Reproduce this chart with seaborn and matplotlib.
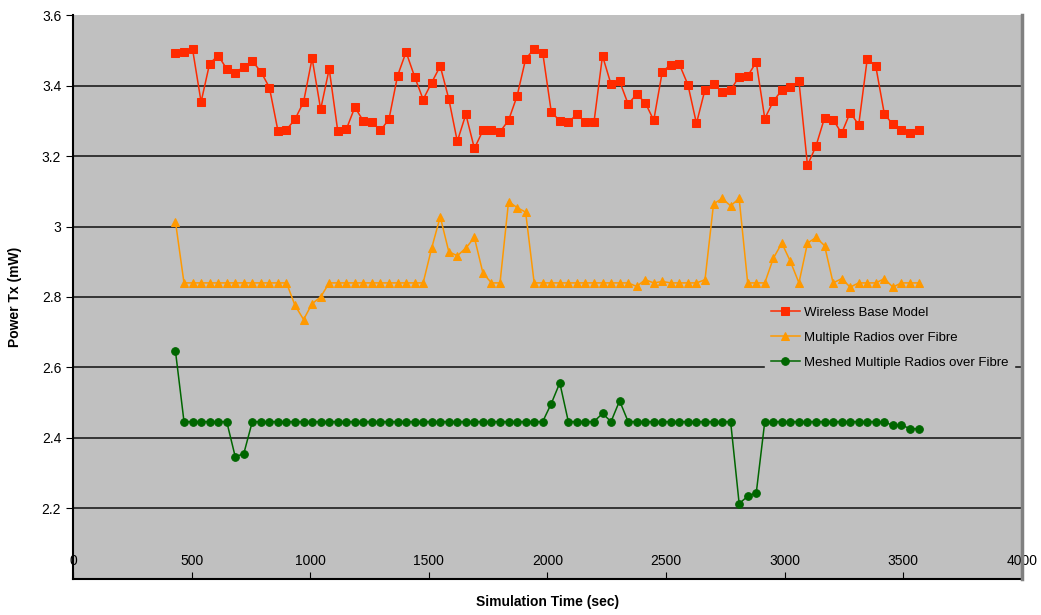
import numpy as np
import pandas as pd
import seaborn as sns
import matplotlib.pyplot as plt
from matplotlib.ticker import FuncFormatter

# simulation time (sec), one sample every 36 s
sim_time = [432, 468, 504, 540, 576, 612, 648, 684, 720, 756,
            792, 828, 864, 900, 936, 972, 1008, 1044, 1080, 1116,
            1152, 1188, 1224, 1260, 1296, 1332, 1368, 1404, 1440, 1476,
            1512, 1548, 1584, 1620, 1656, 1692, 1728, 1764, 1800, 1836,
            1872, 1908, 1944, 1980, 2016, 2052, 2088, 2124, 2160, 2196,
            2232, 2268, 2304, 2340, 2376, 2412, 2448, 2484, 2520, 2556,
            2592, 2628, 2664, 2700, 2736, 2772, 2808, 2844, 2880, 2916,
            2952, 2988, 3024, 3060, 3096, 3132, 3168, 3204, 3240, 3276,
            3312, 3348, 3384, 3420, 3456, 3492, 3528, 3564]

wireless_base = [3.492, 3.497, 3.504, 3.354, 3.463, 3.486, 3.448, 3.437, 3.454, 3.470,
                 3.440, 3.395, 3.272, 3.275, 3.305, 3.354, 3.478, 3.333, 3.448, 3.272,
                 3.276, 3.339, 3.300, 3.297, 3.273, 3.305, 3.428, 3.496, 3.426, 3.361,
                 3.409, 3.456, 3.363, 3.242, 3.319, 3.222, 3.273, 3.273, 3.269, 3.302,
                 3.371, 3.476, 3.505, 3.494, 3.326, 3.300, 3.296, 3.319, 3.296, 3.296,
                 3.485, 3.404, 3.413, 3.348, 3.376, 3.352, 3.302, 3.440, 3.460, 3.461,
                 3.403, 3.293, 3.389, 3.405, 3.383, 3.388, 3.426, 3.428, 3.467, 3.307,
                 3.356, 3.388, 3.396, 3.413, 3.174, 3.229, 3.309, 3.304, 3.265, 3.324,
                 3.289, 3.477, 3.455, 3.320, 3.290, 3.274, 3.266, 3.274]

multi_rof = [3.014, 2.840, 2.840, 2.840, 2.840, 2.840, 2.840, 2.840, 2.840, 2.840,
             2.840, 2.840, 2.840, 2.840, 2.776, 2.736, 2.781, 2.800, 2.840, 2.840,
             2.840, 2.840, 2.840, 2.840, 2.840, 2.840, 2.840, 2.840, 2.840, 2.840,
             2.939, 3.028, 2.929, 2.917, 2.939, 2.969, 2.868, 2.840, 2.840, 3.071,
             3.054, 3.041, 2.840, 2.840, 2.840, 2.840, 2.840, 2.840, 2.840, 2.840,
             2.840, 2.840, 2.840, 2.840, 2.830, 2.849, 2.840, 2.844, 2.840, 2.840,
             2.840, 2.840, 2.849, 3.064, 3.080, 3.059, 3.080, 2.840, 2.840, 2.840,
             2.910, 2.953, 2.901, 2.840, 2.953, 2.969, 2.946, 2.840, 2.852, 2.828,
             2.840, 2.840, 2.840, 2.852, 2.828, 2.840, 2.840, 2.840]

meshed_rof = [2.646, 2.446, 2.446, 2.446, 2.446, 2.446, 2.446, 2.346, 2.355, 2.446,
              2.446, 2.446, 2.446, 2.446, 2.446, 2.446, 2.446, 2.446, 2.446, 2.446,
              2.446, 2.446, 2.446, 2.446, 2.446, 2.446, 2.446, 2.446, 2.446, 2.446,
              2.446, 2.446, 2.446, 2.446, 2.446, 2.446, 2.446, 2.446, 2.446, 2.446,
              2.446, 2.446, 2.446, 2.446, 2.497, 2.556, 2.446, 2.446, 2.446, 2.446,
              2.469, 2.446, 2.505, 2.446, 2.446, 2.446, 2.446, 2.446, 2.446, 2.446,
              2.446, 2.446, 2.446, 2.446, 2.446, 2.446, 2.213, 2.234, 2.243, 2.446,
              2.446, 2.446, 2.446, 2.446, 2.446, 2.446, 2.446, 2.446, 2.446, 2.446,
              2.446, 2.446, 2.446, 2.444, 2.436, 2.436, 2.426, 2.426]

series_names = ["Wireless Base Model", "Multiple Radios over Fibre",
                "Meshed Multiple Radios over Fibre"]
series_colors = ["#FF2A00", "#FF9900", "#006600"]
series_markers = ["s", "^", "o"]

plt.rcParams['font.family'] = ['Liberation Sans', 'DejaVu Sans']

fig = plt.figure(figsize=(10.41, 6.15), dpi=100)
ax = fig.add_axes([0.0701, 0.0592, 0.9116, 0.9158])
ax.set_facecolor("#C0C0C0")

for name, vals, col, mk in zip(series_names, [wireless_base, multi_rof, meshed_rof],
                               series_colors, series_markers):
    df = pd.DataFrame({"t": sim_time, "p": vals})
    sns.lineplot(data=df, x="t", y="p", ax=ax, color=col, marker=mk,
                 markersize=5.5, markeredgecolor=col, linewidth=1.1,
                 estimator=None, label=name)

ax.set_xlim(0, 4000)
ax.set_ylim(2.0, 3.6)
ax.set_xticks(np.arange(0, 4001, 500))
ax.set_yticks(np.arange(2.2, 3.61, 0.2))
ax.yaxis.set_major_formatter(FuncFormatter(lambda v, p: "%g" % round(v, 1)))

for yv in np.arange(2.2, 3.5, 0.2):
    ax.axhline(yv, color="#2a2a2a", linewidth=1.3, zorder=0.5)

ax.tick_params(axis="x", direction="in", length=5, pad=-18, labelsize=10)
ax.tick_params(axis="y", direction="out", length=5, labelsize=10)

ax.spines["top"].set_visible(False)
ax.spines["right"].set_color("#808080")
ax.spines["right"].set_linewidth(2.5)
ax.spines["right"].set_zorder(10)
ax.spines["left"].set_linewidth(1.5)
ax.spines["bottom"].set_linewidth(1.5)

ax.set_xlabel("Simulation Time (sec)", fontsize=10, fontweight="bold", labelpad=12)
ax.set_ylabel("Power Tx (mW)", fontsize=10, fontweight="bold", labelpad=14)

leg = ax.legend(loc="upper left", bbox_to_anchor=(0.729, 0.493), borderaxespad=0,
                frameon=True, facecolor="#C0C0C0", edgecolor="#C0C0C0",
                framealpha=1, fancybox=False, fontsize=9.5, handlelength=2.2,
                handletextpad=0.3, labelspacing=0.95, borderpad=0.45)

fig.savefig("out.png", dpi=100)
